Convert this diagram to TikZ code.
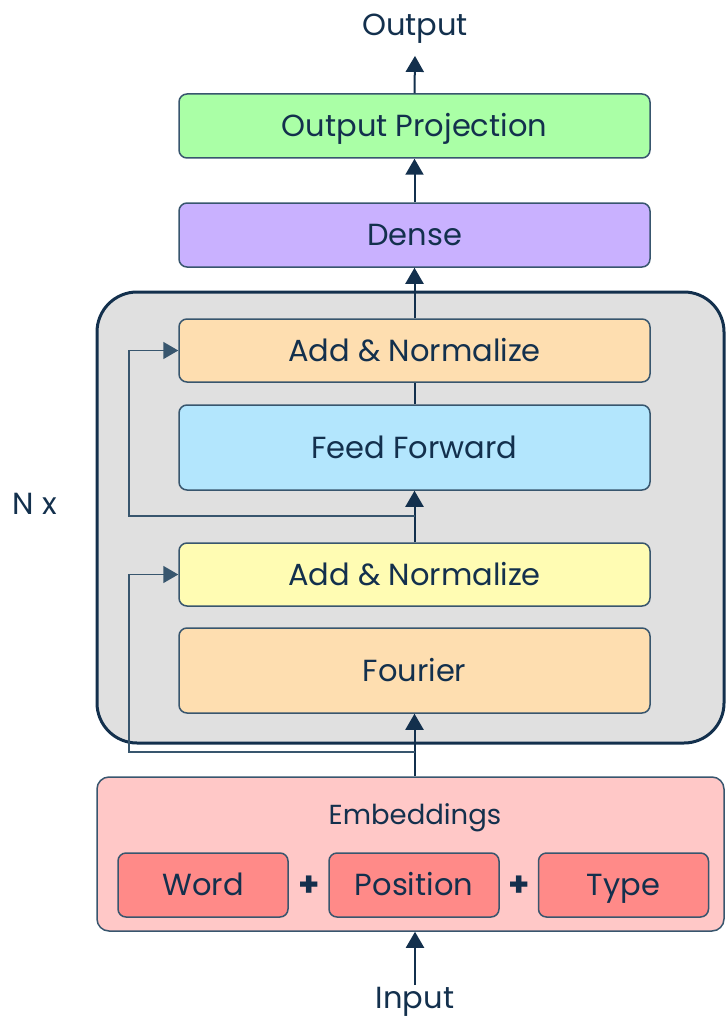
\documentclass[tikz,border=0pt]{standalone}
\usepackage{fontspec}
\setmainfont{Poppins}
\usetikzlibrary{arrows.meta}

\definecolor{ink}{HTML}{13304D}
\definecolor{edgeline}{HTML}{38566E}
\definecolor{projgreen}{HTML}{AAFFA6}
\definecolor{densepurple}{HTML}{C9B1FF}
\definecolor{normorange}{HTML}{FEDEB0}
\definecolor{ffblue}{HTML}{B3E6FD}
\definecolor{normyellow}{HTML}{FFFCB3}
\definecolor{blockgray}{HTML}{E0E0E0}
\definecolor{embpink}{HTML}{FFC8C7}
\definecolor{embred}{HTML}{FF8A88}

\tikzstyle{layer}=[draw=edgeline, line width=1.5pt, rounded corners=8pt, minimum width=471pt, inner sep=0pt, text=ink, text height=21pt, text depth=0pt, font=\fontsize{30.5}{36}\selectfont]
\tikzstyle{part}=[draw=edgeline, line width=1.5pt, rounded corners=8pt, minimum width=170pt, minimum height=64pt, inner sep=0pt, fill=embred, text=ink, text height=21pt, text depth=0pt, font=\fontsize{30.5}{36}\selectfont]
\tikzstyle{label}=[text=ink, inner sep=2pt, font=\fontsize{30.5}{36}\selectfont]
\tikzstyle{flow}=[draw=ink, line width=2pt, -{Triangle[width=18pt,length=16pt]}]
\tikzstyle{skip}=[draw=edgeline, line width=1.6pt, -{Triangle[width=17pt,length=15pt]}]

\begin{document}
\begin{tikzpicture}[x=1pt, y=-1pt]

    \useasboundingbox (0,0) rectangle (725,1019);

    % repeated block
    \node[draw=ink, line width=3pt, fill=blockgray, rounded corners=40pt,
          minimum width=627pt, minimum height=451pt, inner sep=0pt] (block) at (410.5,517.5) {};
    \node[label] (nx) at (35,504) {N x};

    % layers, bottom to top
    \node[layer, fill=normorange, minimum height=85pt] (fourier) at (414.5,670.5) {Fourier};
    \node[layer, fill=normyellow, minimum height=63pt] (addbot)  at (414.5,574.5) {Add \& Normalize};
    \node[layer, fill=ffblue,     minimum height=85pt] (ff)      at (414.5,447.5) {Feed Forward};
    \node[layer, fill=normorange, minimum height=63pt] (addtop)  at (414.5,350.5) {Add \& Normalize};
    \node[layer, fill=densepurple, minimum height=64pt] (dense)  at (414.5,235)   {Dense};
    \node[layer, fill=projgreen,  minimum height=64pt] (proj)    at (414.5,126)   {Output Projection};
    \node[label] (out) at (415,29) {Output};

    % embeddings
    \node[draw=edgeline, line width=1.5pt, fill=embpink, rounded corners=12pt,
          minimum width=627pt, minimum height=154pt, inner sep=0pt] (emb) at (410.5,854) {};
    \node[label, font=\fontsize{27.5}{32}\selectfont] (embtitle) at (415,818) {Embeddings};
    \foreach \x/\name/\txt in {203/word/Word, 414/pos/Position, 623.5/type/Type}
        \node[part] (\name) at (\x,885) {\txt};
    \foreach \x/\name in {309/plusa, 519/plusb}
        \node[label, font=\fontsize{34}{36}\bfseries\selectfont] (\name) at (\x,886) {+};
    \node[label] (in) at (415,1002) {Input};

    % main path
    \path[flow] (in.north) -- (in.north |- emb.south);
    \path[flow] (fourier.south |- emb.north) -- (fourier.south);
    \path[flow] (addbot.north) -- (ff.south);
    \draw[ink, line width=2pt] (ff.north) -- (addtop.south);
    \path[flow] (addtop.north) -- (dense.south);
    \path[flow] (dense.north) -- (proj.south);
    \path[flow] (proj.north) -- ([yshift=-10pt]out.south);

    % residual connections
    \coordinate (skipa) at (414.5,752);
    \coordinate (skipb) at (414.5,516);
    \path[skip] (skipa) -| ([xshift=-49pt]addbot.west) -- (addbot.west);
    \path[skip] (skipb) -| ([xshift=-49pt]addtop.west) -- (addtop.west);

\end{tikzpicture}
\end{document}
